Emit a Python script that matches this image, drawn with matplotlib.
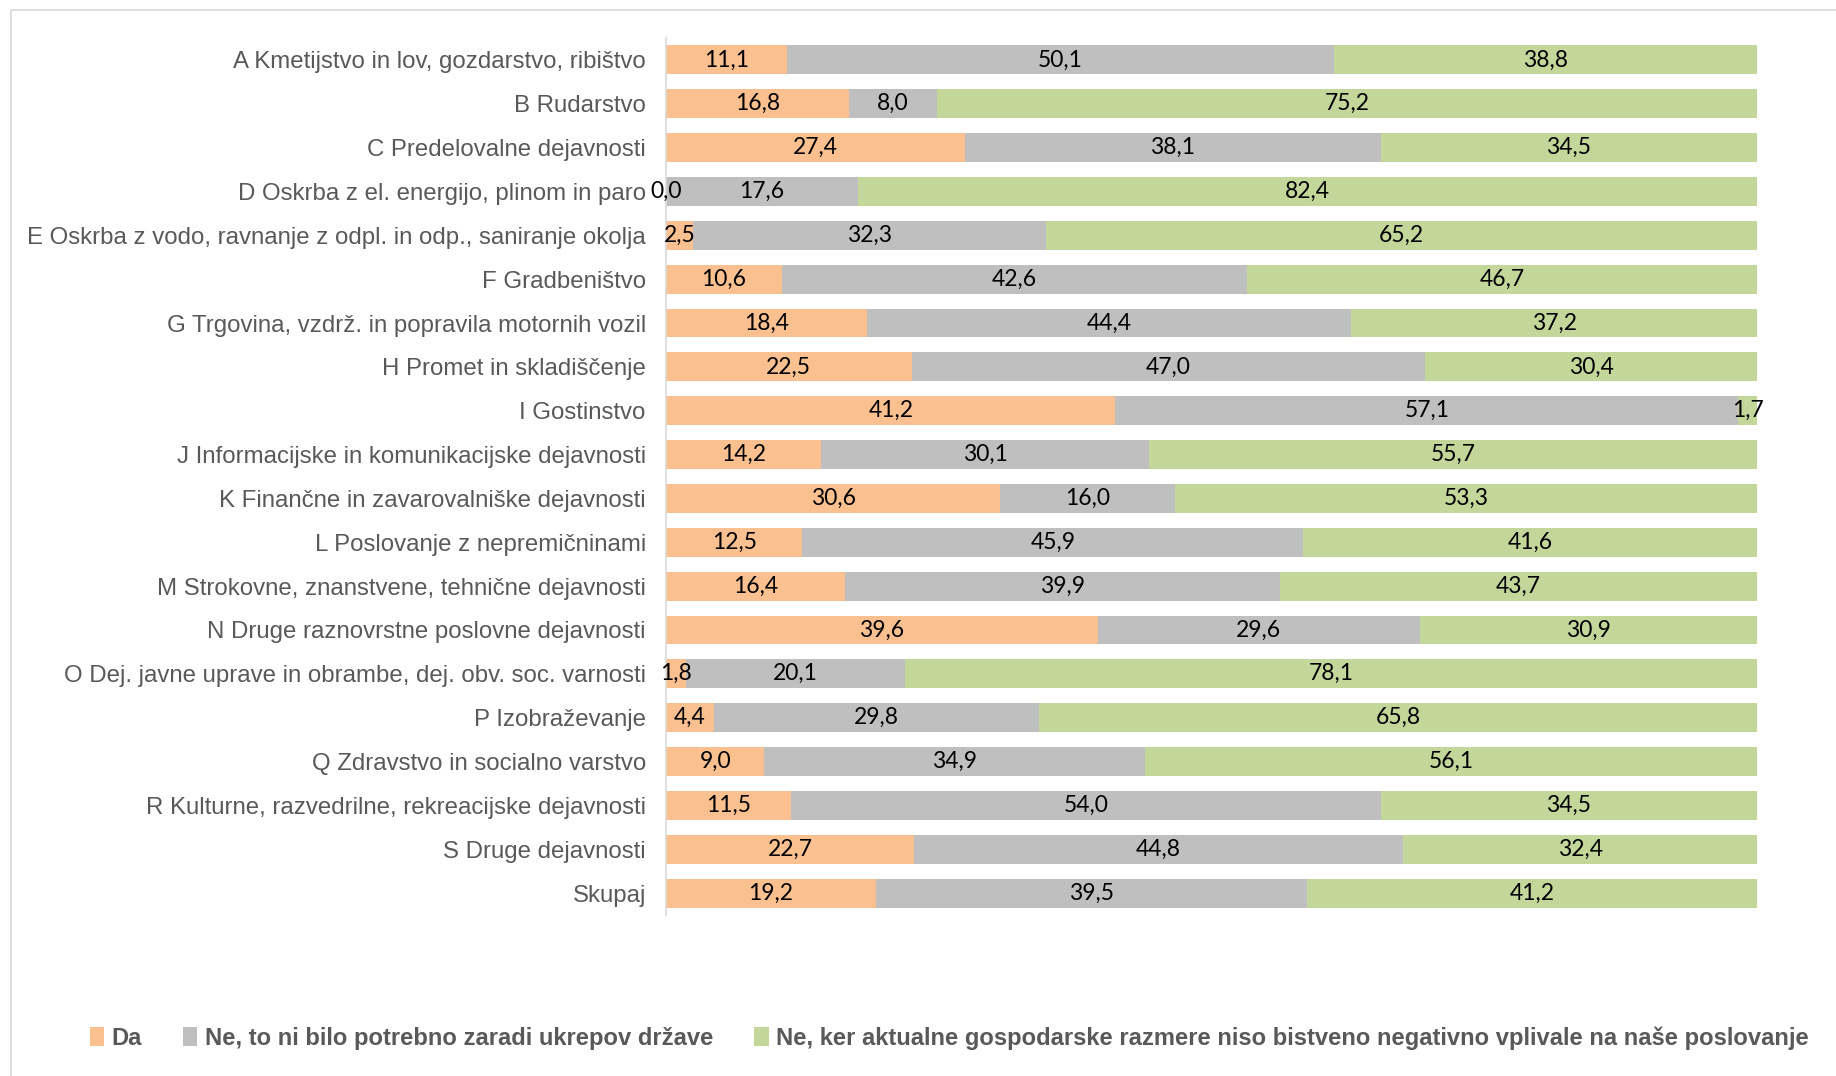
import numpy as np
import matplotlib.pyplot as plt
from matplotlib.patches import Rectangle, Patch

categories = [
    'A Kmetijstvo in lov, gozdarstvo, ribištvo',
    'B Rudarstvo',
    'C Predelovalne dejavnosti',
    'D Oskrba z el. energijo, plinom in paro',
    'E Oskrba z vodo, ravnanje z odpl. in odp., saniranje okolja',
    'F Gradbeništvo',
    'G Trgovina, vzdrž. in popravila motornih vozil',
    'H Promet in skladiščenje',
    'I Gostinstvo',
    'J Informacijske in komunikacijske dejavnosti',
    'K Finančne in zavarovalniške dejavnosti',
    'L Poslovanje z nepremičninami',
    'M Strokovne, znanstvene, tehnične dejavnosti',
    'N Druge raznovrstne poslovne dejavnosti',
    'O Dej. javne uprave in obrambe, dej. obv. soc. varnosti',
    'P Izobraževanje',
    'Q Zdravstvo in socialno varstvo',
    'R Kulturne, razvedrilne, rekreacijske dejavnosti',
    'S Druge dejavnosti',
    'Skupaj',
]
da = [11.1, 16.8, 27.4, 0.0, 2.5, 10.6, 18.4, 22.5, 41.2, 14.2,
      30.6, 12.5, 16.4, 39.6, 1.8, 4.4, 9.0, 11.5, 22.7, 19.2]
ne_drzava = [50.1, 8.0, 38.1, 17.6, 32.3, 42.6, 44.4, 47.0, 57.1, 30.1,
             16.0, 45.9, 39.9, 29.6, 20.1, 29.8, 34.9, 54.0, 44.8, 39.5]
ne_razmere = [38.8, 75.2, 34.5, 82.4, 65.2, 46.7, 37.2, 30.4, 1.7, 55.7,
              53.3, 41.6, 43.7, 30.9, 78.1, 65.8, 56.1, 34.5, 32.4, 41.2]
series_names = ['Da', 'Ne, to ni bilo potrebno zaradi ukrepov države',
                'Ne, ker aktualne gospodarske razmere niso bistveno negativno vplivale na naše poslovanje']
colors = ['#FAC090', '#BFBFBF', '#C4D79B']

fig = plt.figure(figsize=(18.36, 10.76), dpi=100)
# outer chart frame (partly cut off at right and bottom)
fig.patches.append(Rectangle((11 / 1836, -0.05), 1.1, 1.05 - 10 / 1076,
                             transform=fig.transFigure, fill=False,
                             edgecolor='#D9D9D9', linewidth=1.2))

ax = fig.add_axes([666 / 1836, 1 - 915 / 1076, (1757 - 666) / 1836, (915 - 38) / 1076])

data = np.array([da, ne_drzava, ne_razmere])
pct = data / data.sum(axis=0) * 100  # 100 % stacked
y = np.arange(len(categories))
left = np.zeros(len(categories))
for i in range(3):
    ax.barh(y, pct[i], left=left, height=0.66, color=colors[i], label=series_names[i])
    for k in range(len(categories)):
        ax.text(left[k] + pct[i][k] / 2, y[k], f'{data[i][k]:.1f}'.replace('.', ','),
                ha='center', va='center', fontsize=16.5, family='Lato', color='black')
    left += pct[i]

ax.set_xlim(0, 100)
ax.set_ylim(len(categories) - 0.5, -0.5)
ax.set_yticks(y)
ax.set_yticklabels(categories, fontsize=17.3, family='Liberation Sans', color='#595959')
ax.tick_params(axis='y', length=0, pad=14.5)
ax.set_xticks([])
for s in ['top', 'right', 'bottom']:
    ax.spines[s].set_visible(False)
ax.spines['left'].set_color('#D9D9D9')
ax.spines['left'].set_linewidth(1.2)

handles = [Patch(facecolor=c) for c in colors]
leg = fig.legend(handles, series_names, loc='center', bbox_to_anchor=(0.517, 1 - 1038 / 1076),
                 ncol=3, frameon=False, handlelength=0.6, handleheight=0.8,
                 handletextpad=0.3, columnspacing=1.75,
                 prop={'family': 'Liberation Sans', 'weight': 'bold', 'size': 17.1})
for t in leg.get_texts():
    t.set_color('#595959')

fig.savefig('out.png', dpi=100)
